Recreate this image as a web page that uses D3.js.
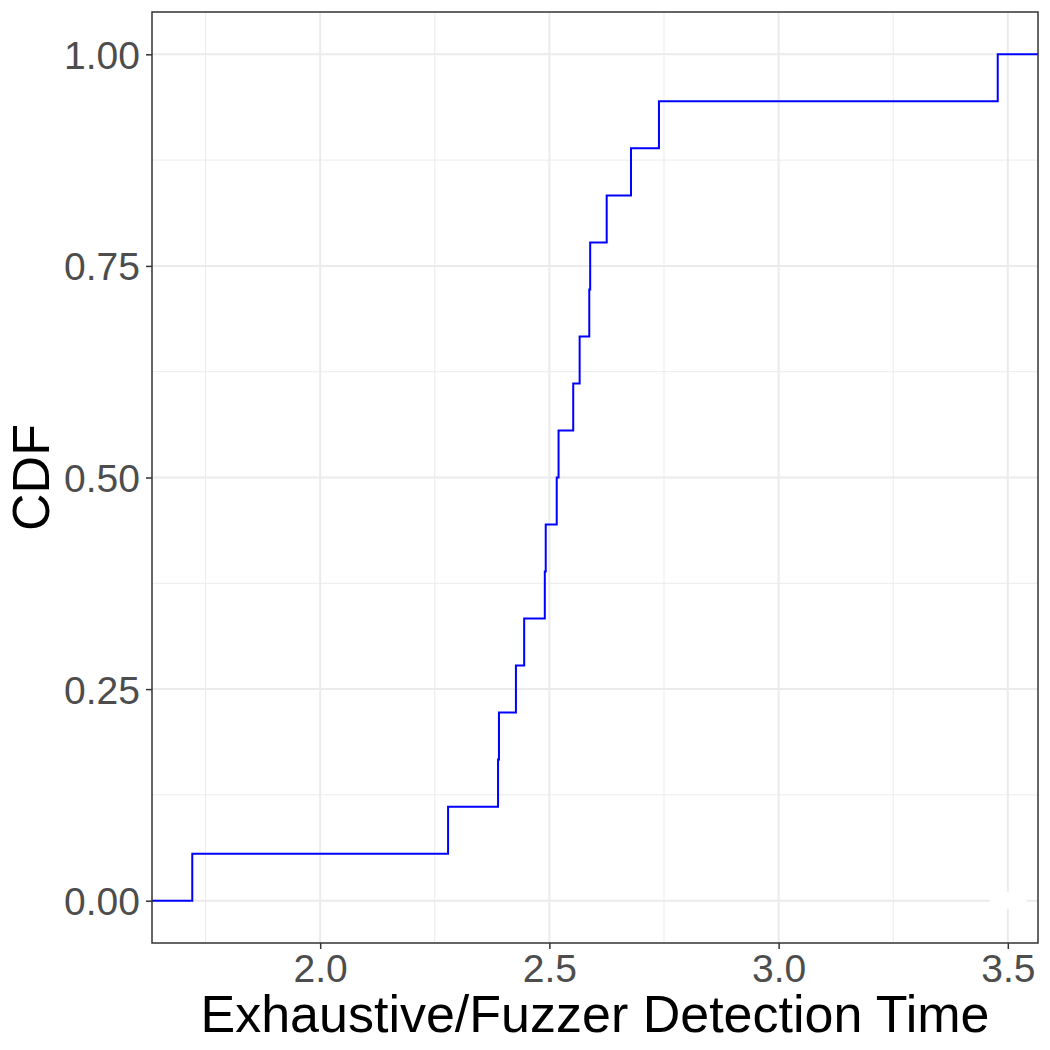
<!DOCTYPE html>
<html>
<head>
<meta charset="utf-8">
<script src="https://cdn.jsdelivr.net/npm/d3@7"></script>
<style>
  body { margin: 0; background: #fff; }
  text { font-family: "Liberation Sans", Arial, sans-serif; }
</style>
</head>
<body>
<svg id="chart"></svg>
<script>
var width = 1050
var height = 1050

// detection time ratios (18 runs)
var times = [1.721, 2.279, 2.388, 2.390, 2.427, 2.445, 2.490, 2.492, 2.516,
             2.520, 2.552, 2.566, 2.587, 2.589, 2.625, 2.678, 2.739, 3.478]
var xTicks = [2.0, 2.5, 3.0, 3.5]
var xMinor = [1.75, 2.25, 2.75, 3.25]
var yTicks = [0, 0.25, 0.5, 0.75, 1.0]
var yMinor = [0.125, 0.375, 0.625, 0.875]

var margin = {left: 152, right: 12, top: 12, bottom: 107}

var svg = d3.select("#chart")
    .attr("width", width)
    .attr("height", height)

var xMin = d3.min(times), xMax = d3.max(times)
var pad = (xMax - xMin) * 0.05

var x = d3.scaleLinear()
    .domain([xMin - pad, xMax + pad])
    .range([margin.left, width - margin.right])

var y = d3.scaleLinear()
    .domain([-0.05, 1.05])
    .range([height - margin.bottom, margin.top])

var grid = svg.append("g")

grid.selectAll(".xminor").data(xMinor).enter().append("line")
    .attr("x1", d => x(d)).attr("x2", d => x(d))
    .attr("y1", y.range()[0]).attr("y2", y.range()[1])
    .attr("stroke", "#EBEBEB").attr("stroke-width", 1)

grid.selectAll(".yminor").data(yMinor).enter().append("line")
    .attr("x1", x.range()[0]).attr("x2", x.range()[1])
    .attr("y1", d => y(d)).attr("y2", d => y(d))
    .attr("stroke", "#EBEBEB").attr("stroke-width", 1)

grid.selectAll(".xmajor").data(xTicks).enter().append("line")
    .attr("x1", d => x(d)).attr("x2", d => x(d))
    .attr("y1", y.range()[0]).attr("y2", y.range()[1])
    .attr("stroke", "#EBEBEB").attr("stroke-width", 2)

grid.selectAll(".ymajor").data(yTicks).enter().append("line")
    .attr("x1", x.range()[0]).attr("x2", x.range()[1])
    .attr("y1", d => y(d)).attr("y2", d => y(d))
    .attr("stroke", "#EBEBEB").attr("stroke-width", 2)

// white blob sitting over (3.5, 0) in the original
svg.append("rect")
    .attr("x", x(3.5) - 18)
    .attr("y", y(0) - 9)
    .attr("width", 37)
    .attr("height", 17)
    .attr("fill", "#fff")

// ecdf step points, padded to the panel edges
var n = times.length
var sorted = times.slice().sort(d3.ascending)
var steps = [[x.domain()[0], 0]]
sorted.forEach(function(t, i) { steps.push([t, (i + 1) / n]) })
steps.push([x.domain()[1], 1])

var line = d3.line()
    .x(d => x(d[0]))
    .y(d => y(d[1]))
    .curve(d3.curveStepAfter)

svg.append("path")
    .datum(steps)
    .attr("d", line)
    .attr("fill", "none")
    .attr("stroke", "#0000FF")
    .attr("stroke-width", 2)

// panel border
svg.append("rect")
    .attr("x", x.range()[0])
    .attr("y", y.range()[1])
    .attr("width", x.range()[1] - x.range()[0])
    .attr("height", y.range()[0] - y.range()[1])
    .attr("fill", "none")
    .attr("stroke", "#333333")
    .attr("stroke-width", 1.5)

var xAxis = svg.append("g")
    .attr("transform", "translate(0," + y.range()[0] + ")")
    .call(d3.axisBottom(x).tickValues(xTicks).tickFormat(d3.format(".1f")).tickSize(6).tickPadding(5))
xAxis.select(".domain").remove()

var yAxis = svg.append("g")
    .attr("transform", "translate(" + x.range()[0] + ",0)")
    .call(d3.axisLeft(y).tickValues(yTicks).tickFormat(d3.format(".2f")).tickSize(6).tickPadding(6))
yAxis.select(".domain").remove()

svg.selectAll(".tick line").attr("stroke", "#333333").attr("stroke-width", 1.5)
svg.selectAll(".tick text")
    .attr("fill", "#4D4D4D")
    .style("font-size", "39px")
    .style("font-family", "Liberation Sans, Arial, sans-serif")
yAxis.selectAll(".tick text").attr("dy", "0.36em")

svg.append("text")
    .attr("x", (x.range()[0] + x.range()[1]) / 2)
    .attr("y", 1032)
    .attr("text-anchor", "middle")
    .attr("fill", "#000")
    .style("font-size", "52px")
    .text("Exhaustive/Fuzzer Detection Time")

svg.append("text")
    .attr("transform", "translate(49," + ((y.range()[0] + y.range()[1]) / 2) + ") rotate(-90)")
    .attr("text-anchor", "middle")
    .attr("fill", "#000")
    .style("font-size", "52px")
    .text("CDF")
</script>
</body>
</html>
